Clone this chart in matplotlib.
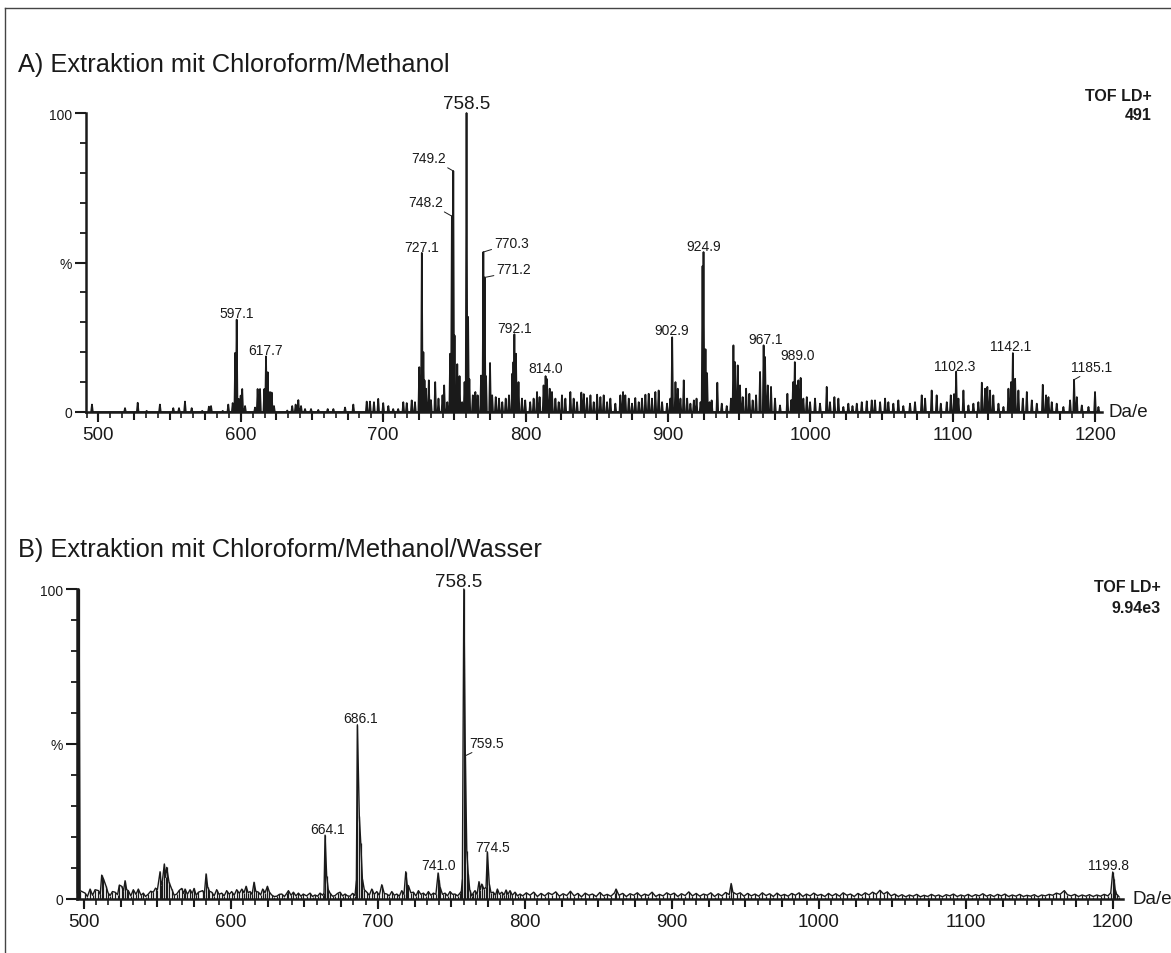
import numpy as np
import matplotlib.pyplot as plt
from matplotlib.ticker import MultipleLocator, NullFormatter
from matplotlib.lines import Line2D

plt.rcParams['font.family'] = ['Liberation Sans', 'DejaVu Sans']

# ---- Panel A: Chloroform/Methanol (peak m/z, relative intensity %) ----
title_a = 'A) Extraktion mit Chloroform/Methanol'
tof_a = ['TOF LD+', '491']
mz_a = [495.5, 518.7, 527.6, 533.9, 543.2, 552.6, 556.6, 560.8, 565.5, 572.9,
        577.6, 579.1, 587.3, 591.2, 594.3, 596.1, 597.1, 598.5, 599.9, 601.0,
        603.0, 610.0, 611.8, 613.5, 616.5, 617.7, 618.9, 620.5, 621.7, 623.3,
        632.6, 636.1, 638.5, 640.4, 642.3, 645.1, 649.3, 654.4, 661.0, 665.0,
        673.2, 679.0, 688.4, 690.7, 693.5, 696.5, 700.0, 703.6, 707.0, 710.5,
        714.1, 716.5, 720.0, 722.3, 725.3, 727.1, 728.2, 729.0, 730.0, 732.0,
        733.5, 736.5, 738.8, 741.6, 742.8, 745.0, 747.0, 748.2, 749.2, 750.1,
        752.0, 753.6, 755.4, 757.1, 758.5, 759.6, 760.5, 762.9, 764.7, 766.3,
        768.7, 770.3, 771.2, 772.2, 775.0, 776.5, 779.0, 781.3, 783.6, 786.0,
        788.3, 790.6, 791.4, 792.1, 793.2, 795.0, 797.4, 799.7, 803.2, 805.6,
        808.0, 809.8, 812.6, 814.0, 815.0, 816.9, 818.5, 820.9, 823.2, 825.5,
        827.9, 831.4, 833.7, 836.1, 839.1, 840.8, 843.1, 845.5, 847.8, 850.2,
        852.5, 854.8, 857.2, 859.5, 863.0, 866.5, 868.4, 870.0, 872.4, 874.7,
        877.0, 879.4, 881.7, 884.1, 886.4, 888.7, 891.1, 893.4, 895.8, 899.3,
        901.6, 902.9, 905.2, 906.8, 908.7, 911.0, 913.4, 915.7, 918.1, 920.0,
        922.8, 924.2, 924.9, 926.3, 927.4, 929.1, 930.6, 934.6, 937.7, 941.2,
        944.2, 945.9, 947.0, 948.9, 950.5, 952.4, 954.8, 957.1, 959.4, 961.8,
        964.6, 967.1, 968.1, 970.0, 972.3, 975.1, 978.6, 983.8, 986.5, 987.8,
        989.0, 990.0, 991.5, 993.1, 995.0, 997.4, 999.7, 1003.2, 1006.7, 1011.4,
        1013.7, 1016.8, 1019.6, 1023.1, 1026.6, 1029.5, 1032.5, 1036.0, 1039.5, 1043.0,
        1045.3, 1048.9, 1052.4, 1054.7, 1058.2, 1061.7, 1065.2, 1069.9, 1073.4, 1078.1,
        1080.5, 1085.1, 1088.6, 1091.5, 1095.7, 1098.5, 1100.8, 1102.3, 1103.9, 1107.4,
        1110.9, 1114.4, 1117.9, 1120.3, 1122.6, 1124.2, 1126.1, 1128.4, 1132.0, 1135.5,
        1139.0, 1140.8, 1142.1, 1143.7, 1146.0, 1149.1, 1151.9, 1155.4, 1158.9, 1163.1,
        1165.4, 1167.1, 1169.4, 1172.9, 1177.6, 1182.3, 1185.1, 1187.0, 1190.5, 1195.2,
        1199.8, 1202.2]
int_a = [2.5, 1.3, 3.1, 0.4, 2.5, 1.3, 1.3, 3.5, 1.3, 0.4,
         1.8, 2.0, 0.4, 2.5, 3.0, 19.8, 30.9, 4.4, 5.5, 7.7,
         2.0, 1.5, 7.7, 7.7, 7.7, 18.6, 13.3, 6.7, 6.5, 2.0,
         0.5, 2.0, 2.5, 4.0, 2.0, 1.0, 1.0, 0.7, 1.0, 1.0,
         1.5, 2.5, 3.5, 3.5, 3.3, 4.4, 3.0, 2.0, 1.0, 1.0,
         3.3, 3.0, 3.9, 3.3, 15.0, 53.2, 20.0, 10.6, 7.8, 10.6,
         4.0, 10.0, 4.5, 5.6, 8.9, 3.3, 19.5, 65.5, 80.6, 25.6,
         16.0, 12.0, 3.3, 10.0, 100.0, 31.8, 11.0, 5.6, 6.7, 5.6,
         12.2, 53.5, 45.0, 12.0, 16.4, 5.6, 5.0, 4.5, 3.3, 4.5,
         5.6, 12.8, 16.7, 26.0, 19.5, 10.0, 4.5, 3.9, 3.3, 4.5,
         6.7, 5.0, 8.9, 12.0, 11.0, 7.8, 6.7, 4.5, 3.3, 5.6,
         4.5, 6.7, 4.5, 3.3, 6.5, 6.0, 4.7, 5.6, 3.3, 5.8,
         5.0, 5.6, 3.3, 4.5, 2.8, 5.6, 6.7, 5.6, 4.5, 2.8,
         4.7, 3.3, 4.5, 5.8, 6.1, 4.5, 6.7, 7.2, 3.3, 2.8,
         4.5, 25.0, 10.0, 7.8, 4.5, 10.6, 4.5, 2.8, 3.9, 4.5,
         3.3, 48.8, 53.5, 21.0, 13.0, 3.3, 3.9, 9.8, 2.8, 2.0,
         4.5, 22.3, 16.7, 15.6, 8.9, 5.0, 7.8, 6.1, 3.9, 5.6,
         13.4, 22.3, 18.4, 8.9, 8.4, 4.5, 2.2, 6.1, 4.0, 10.0,
         16.7, 8.9, 10.6, 11.4, 4.5, 5.0, 3.3, 4.5, 2.8, 8.4,
         3.3, 5.0, 4.5, 1.7, 2.8, 2.0, 2.8, 3.3, 3.6, 3.9,
         3.9, 3.3, 4.5, 3.3, 2.8, 3.9, 2.0, 2.8, 3.3, 5.6,
         4.5, 7.2, 5.6, 2.8, 3.3, 5.6, 6.0, 13.5, 4.5, 7.2,
         2.2, 2.8, 3.3, 9.8, 7.8, 8.4, 7.2, 5.6, 2.8, 1.7,
         7.8, 10.0, 19.7, 11.1, 7.2, 4.5, 6.7, 3.9, 2.8, 9.1,
         5.6, 5.0, 3.3, 2.8, 1.7, 3.9, 10.8, 5.0, 2.2, 1.7,
         6.7, 1.7]
labels_a = [597.1, 617.7, 727.1, 748.2, 749.2, 758.5, 770.3, 771.2, 792.1,
            814.0, 902.9, 924.9, 967.1, 989.0, 1102.3, 1142.1, 1185.1]

# ---- Panel B: Chloroform/Methanol/Wasser ----
title_b = 'B) Extraktion mit Chloroform/Methanol/Wasser'
tof_b = ['TOF LD+', '9.94e3']
mz_b = [495.6, 496.0, 496.8, 497.5, 500.9, 502.5, 504.3, 506.0, 507.7, 510.0,
        511.2, 512.2, 513.4, 515.2, 516.5, 517.9, 519.5, 521.3, 523.0, 524.2,
        525.8, 527.0, 528.1, 529.2, 530.3, 532.0, 533.7, 535.5, 537.1, 539.0,
        540.5, 542.0, 543.9, 545.5, 547.3, 548.8, 550.1, 551.9, 552.6, 553.5,
        554.8, 555.6, 556.4, 558.0, 559.8, 561.5, 563.2, 565.0, 566.6, 568.0,
        568.9, 570.5, 572.3, 573.8, 575.0, 576.5, 578.0, 580.9, 582.0, 583.2,
        584.3, 585.5, 587.0, 588.7, 590.4, 592.0, 593.8, 595.5, 597.2, 599.0,
        600.6, 602.3, 604.0, 605.8, 607.5, 609.0, 610.4, 611.8, 613.1, 614.5,
        615.8, 617.0, 618.8, 620.3, 621.7, 623.3, 624.9, 626.3, 627.8, 629.5,
        631.3, 633.0, 634.7, 636.5, 638.0, 639.2, 641.0, 642.6, 644.3, 646.0,
        647.7, 649.3, 651.5, 653.9, 655.6, 657.3, 659.0, 660.7, 662.5, 663.4,
        664.1, 665.2, 666.3, 667.5, 669.2, 670.9, 672.6, 674.3, 676.0, 677.7,
        679.4, 681.1, 682.8, 684.5, 685.4, 686.1, 687.4, 688.4, 689.5, 690.8,
        692.5, 694.2, 695.9, 697.6, 699.3, 701.0, 702.7, 704.4, 706.1, 707.8,
        709.5, 711.2, 712.9, 714.6, 716.3, 717.8, 719.0, 720.0, 720.8, 722.5,
        724.2, 725.9, 727.6, 729.3, 731.0, 732.7, 734.4, 736.1, 737.8, 739.5,
        741.0, 741.7, 742.3, 744.0, 745.7, 747.4, 749.1, 750.8, 752.5, 754.2,
        755.9, 756.8, 757.5, 758.5, 759.5, 760.5, 761.5, 762.5, 763.9, 765.0,
        766.1, 767.5, 768.8, 769.7, 770.7, 772.2, 773.6, 774.5, 775.8, 777.0,
        778.5, 780.0, 781.3, 782.8, 784.3, 785.8, 787.2, 788.5, 789.9, 791.5,
        793.3, 795.0, 796.7, 798.5, 801.0, 803.5, 806.0, 808.5, 811.0, 813.5,
        816.0, 818.5, 821.0, 823.5, 826.0, 828.5, 831.0, 833.5, 836.0, 838.5,
        841.0, 843.5, 846.0, 848.5, 851.0, 853.5, 856.0, 858.5, 861.0, 862.0,
        864.0, 866.5, 869.0, 871.5, 874.0, 876.5, 879.0, 881.5, 884.0, 886.5,
        889.0, 891.5, 894.0, 896.5, 899.0, 901.5, 904.0, 906.5, 909.0, 911.5,
        914.0, 916.5, 919.0, 921.5, 924.0, 926.5, 929.0, 931.5, 934.0, 936.5,
        939.0, 940.3, 941.5, 944.0, 946.5, 949.0, 951.5, 954.0, 956.5, 959.0,
        961.5, 964.0, 966.5, 969.0, 971.5, 974.0, 976.5, 979.0, 981.5, 984.0,
        986.5, 989.0, 991.5, 994.0, 996.5, 999.0, 1001.5, 1004.0, 1006.5, 1009.0,
        1011.5, 1014.0, 1016.5, 1019.0, 1021.5, 1024.0, 1026.5, 1029.0, 1031.5, 1034.0,
        1036.5, 1039.0, 1041.5, 1044.0, 1046.5, 1049.0, 1051.5, 1054.0, 1056.5, 1059.0,
        1061.5, 1064.0, 1066.5, 1069.0, 1071.5, 1074.0, 1076.5, 1079.0, 1081.5, 1084.0,
        1086.5, 1089.0, 1091.5, 1094.0, 1096.5, 1099.0, 1101.5, 1104.0, 1106.5, 1109.0,
        1111.5, 1114.0, 1116.5, 1119.0, 1121.5, 1124.0, 1126.5, 1129.0, 1131.5, 1134.0,
        1136.5, 1139.0, 1141.5, 1144.0, 1146.5, 1149.0, 1151.5, 1154.0, 1156.5, 1159.0,
        1161.5, 1164.0, 1166.9, 1169.0, 1171.5, 1174.0, 1176.5, 1179.0, 1181.5, 1184.0,
        1186.5, 1189.0, 1191.5, 1194.0, 1196.5, 1198.5, 1199.8, 1200.6, 1201.5, 1202.5,
        1204.0]
int_b = [2.0, 100.0, 100.0, 2.7, 1.9, 0.8, 3.2, 1.2, 3.0, 2.7,
         1.5, 7.7, 6.5, 4.1, 2.0, 1.1, 2.4, 2.2, 1.4, 4.5,
         4.1, 2.5, 5.9, 3.0, 2.7, 1.0, 3.0, 1.5, 3.2, 1.2,
         1.9, 0.8, 1.6, 2.5, 2.2, 3.5, 3.0, 8.8, 4.5, 5.9,
         11.3, 7.0, 10.2, 5.4, 3.2, 1.2, 1.6, 2.8, 3.4, 1.8,
         3.2, 1.5, 3.0, 1.8, 3.4, 1.2, 2.2, 2.7, 1.5, 8.1,
         3.8, 2.5, 2.2, 1.0, 3.0, 1.5, 1.9, 1.0, 2.7, 1.5,
         2.4, 1.2, 3.0, 1.8, 3.2, 2.0, 4.1, 2.0, 2.4, 1.5,
         5.4, 2.5, 2.2, 1.3, 3.2, 2.0, 4.1, 2.2, 1.3, 0.8,
         0.9, 1.5, 1.6, 0.8, 1.8, 2.7, 1.2, 2.2, 1.0, 1.9,
         0.9, 1.6, 1.0, 1.9, 0.8, 1.3, 0.9, 1.9, 1.2, 2.0,
         20.6, 7.5, 3.0, 1.9, 0.9, 1.1, 1.8, 2.2, 1.0, 1.6,
         1.0, 0.9, 1.8, 1.1, 6.0, 56.2, 26.8, 18.0, 6.5, 3.0,
         2.2, 1.2, 3.2, 1.5, 2.4, 1.2, 4.6, 1.8, 1.6, 1.0,
         2.4, 1.2, 1.6, 0.9, 2.7, 1.5, 8.8, 4.5, 4.3, 2.0,
         2.2, 1.0, 2.7, 1.5, 1.9, 1.1, 2.4, 1.2, 1.9, 1.5,
         8.4, 6.0, 3.8, 1.5, 1.9, 1.0, 2.4, 1.5, 1.6, 1.0,
         1.9, 2.5, 6.5, 100.0, 46.2, 15.5, 8.0, 3.0, 1.0, 2.0,
         2.7, 1.5, 5.6, 3.0, 4.8, 3.2, 3.8, 15.2, 4.8, 2.0,
         2.2, 1.2, 3.2, 1.5, 2.2, 1.3, 2.9, 1.5, 2.7, 1.2,
         2.2, 1.0, 1.6, 1.0, 2.0, 1.2, 2.2, 0.8, 1.8, 1.0,
         2.0, 1.4, 2.3, 0.9, 1.7, 1.1, 2.5, 1.0, 1.8, 0.7,
         1.9, 1.2, 1.6, 0.8, 2.1, 1.0, 1.5, 0.9, 2.0, 3.2,
         1.2, 1.8, 0.8, 1.7, 1.2, 2.0, 0.9, 1.6, 1.1, 2.2,
         0.8, 1.5, 1.0, 2.0, 1.3, 1.9, 0.8, 1.7, 1.1, 2.3,
         1.0, 1.8, 0.9, 1.6, 1.2, 2.0, 0.8, 1.7, 1.0, 2.1,
         1.4, 5.0, 2.2, 1.5, 2.0, 0.9, 1.8, 1.0, 1.6, 0.9,
         2.0, 1.1, 1.7, 0.8, 1.9, 1.0, 1.5, 0.9, 1.8, 1.2,
         2.0, 0.8, 1.6, 1.0, 1.9, 1.1, 1.5, 0.8, 1.8, 1.0,
         1.7, 0.9, 2.0, 1.2, 1.6, 0.8, 1.8, 1.1, 2.0, 1.3,
         2.2, 1.5, 2.8, 1.6, 2.3, 1.0, 1.6, 0.8, 1.4, 0.7,
         1.3, 0.9, 1.5, 0.7, 1.2, 0.8, 1.5, 0.9, 1.3, 0.7,
         1.4, 1.0, 1.6, 0.8, 1.3, 0.9, 1.5, 0.8, 1.4, 1.0,
         1.7, 0.9, 1.4, 0.8, 1.5, 1.0, 1.6, 0.8, 1.3, 0.9,
         1.5, 0.8, 1.2, 0.9, 1.4, 0.7, 1.3, 1.0, 1.5, 1.2,
         1.9, 1.5, 2.7, 1.4, 1.0, 1.5, 0.8, 1.3, 0.9, 1.4,
         0.8, 1.3, 0.9, 1.5, 1.0, 2.0, 8.7, 6.5, 3.0, 1.5,
         0.8]
labels_b = [664.1, 686.1, 741.0, 758.5, 759.5, 774.5, 1199.8]

INK = '#1a1a1a'
W, H = 1171, 954
fig = plt.figure(figsize=(W / 100, H / 100), dpi=100)


def px_rect(left, right, top, bottom):
    return [left / W, 1 - bottom / H, (right - left) / W, (bottom - top) / H]


def style_axes(ax, xlim):
    ax.set_xlim(*xlim)
    ax.set_ylim(0, 100)
    ax.spines['top'].set_visible(False)
    ax.spines['right'].set_visible(False)
    for s in ('left', 'bottom'):
        ax.spines[s].set_linewidth(1.8)
        ax.spines[s].set_color(INK)
    ax.set_yticks([0, 50, 100])
    ax.set_yticklabels(['0', '%', '100'], fontsize=10, color=INK)
    ax.yaxis.set_minor_locator(MultipleLocator(10))
    ax.tick_params(axis='y', which='major', length=8, width=1.5, pad=2, color=INK)
    ax.tick_params(axis='y', which='minor', length=4, width=1.3, color=INK)
    ax.xaxis.set_major_locator(MultipleLocator(100))
    ax.xaxis.set_minor_locator(MultipleLocator(25 / 3))
    ax.tick_params(axis='x', which='major', length=7, width=1.5, pad=3,
                   labelsize=13.5, color=INK, labelcolor=INK)
    ax.tick_params(axis='x', which='minor', length=4, width=1.2, color=INK)
    sec = ax.secondary_xaxis('bottom')
    sec.xaxis.set_major_locator(MultipleLocator(25))
    sec.xaxis.set_major_formatter(NullFormatter())
    sec.tick_params(length=6, width=1.5, color=INK)
    sec.spines['bottom'].set_visible(False)


def add_labels(ax, mzs, ints, labels, shift, leaders, big):
    for m in labels:
        h = ints[mzs.index(m)]
        txt = '%.1f' % m
        size = 13.5 if m == big else 10
        if m in leaders:
            dx, dy, ha, rel = leaders[m]
            ax.annotate(txt, xy=(m, h), xytext=(dx, dy), textcoords='offset pixels',
                        ha=ha, va='baseline', fontsize=size, color=INK,
                        annotation_clip=False,
                        arrowprops=dict(arrowstyle='-', lw=0.7, color=INK,
                                        shrinkA=0, shrinkB=0, relpos=rel))
        else:
            dx, dy = shift.get(m, (0, 3))
            ax.annotate(txt, xy=(m, h), xytext=(dx, dy), textcoords='offset pixels',
                        ha='center', va='baseline', fontsize=size, color=INK,
                        annotation_clip=False)


# ---- panel A ----
ax_a = fig.add_axes(px_rect(86, 1102, 114, 413))
style_axes(ax_a, (491.3, 1204.7))
m_a = np.array(mz_a)
hw = 0.6
xs = np.column_stack([m_a - hw, m_a, m_a + hw]).ravel()
ys = np.column_stack([np.zeros(len(m_a)), int_a, np.zeros(len(m_a))]).ravel()
ax_a.plot(xs, ys, color=INK, lw=1.25, solid_joinstyle='round', clip_on=False)

shift_a = {758.5: (0, 5), 597.1: (0, 3), 617.7: (0, 2), 727.1: (0, 2),
           792.1: (0, 2), 814.0: (0, 4), 902.9: (0, 3), 924.9: (0, 2),
           967.1: (2, 2), 989.0: (3, 3), 1102.3: (-1, 2), 1142.1: (-2, 3)}
lead_a = {749.2: (-7, 9, 'right', (0.9, 0)),
          748.2: (-9, 10, 'right', (0.9, 0)),
          770.3: (11, 5, 'left', (0, 0.1)),
          771.2: (12, 4, 'left', (0, 0.1)),
          1185.1: (17, 9, 'center', (0.35, 0))}
add_labels(ax_a, mz_a, int_a, labels_a, shift_a, lead_a, 758.5)
ax_a.annotate('Da/e', xy=(1, 0), xycoords='axes fraction', xytext=(6, 0),
              textcoords='offset pixels', ha='left', va='center',
              fontsize=13.5, color=INK, annotation_clip=False)

# ---- panel B ----
ax_b = fig.add_axes(px_rect(77, 1123, 590, 900))
style_axes(ax_b, (495.4, 1206.8))
ax_b.plot(mz_b, int_b, color=INK, lw=1.0, solid_joinstyle='round', clip_on=False)
ax_b.vlines(mz_b, 0, int_b, color=INK, lw=0.9, clip_on=False)

shift_b = {758.5: (-5, 3), 686.1: (3, 3), 664.1: (3, 2), 741.0: (0, 4),
           774.5: (5, 1), 1199.8: (-4, 3)}
lead_b = {759.5: (21, 9, 'center', (0.25, 0))}
add_labels(ax_b, mz_b, int_b, labels_b, shift_b, lead_b, 758.5)
ax_b.annotate('Da/e', xy=(1, 0), xycoords='axes fraction', xytext=(9, 0),
              textcoords='offset pixels', ha='left', va='center',
              fontsize=13.5, color=INK, annotation_clip=False)

# ---- titles and instrument notes ----
fig.text(18 / W, 1 - 72 / H, title_a, fontsize=18.3, color=INK, va='baseline')
fig.text(18 / W, 1 - 557 / H, title_b, fontsize=18.3, color=INK, va='baseline')
fig.text(1152 / W, 1 - 101 / H, tof_a[0], fontsize=11.5, weight='bold',
         ha='right', va='baseline', color=INK)
fig.text(1152 / W, 1 - 120 / H, tof_a[1], fontsize=11.5, weight='bold',
         ha='right', va='baseline', color=INK)
fig.text(1161 / W, 1 - 592 / H, tof_b[0], fontsize=11.5, weight='bold',
         ha='right', va='baseline', color=INK)
fig.text(1161 / W, 1 - 613 / H, tof_b[1], fontsize=11.5, weight='bold',
         ha='right', va='baseline', color=INK)

# frame lines of the original figure
fig.add_artist(Line2D([5 / W, 5 / W], [0, 1 - 9 / H], color='#444444', lw=1))
fig.add_artist(Line2D([5 / W, 1], [1 - 9 / H, 1 - 9 / H], color='#444444', lw=1))

fig.savefig('out.png', dpi=100)
